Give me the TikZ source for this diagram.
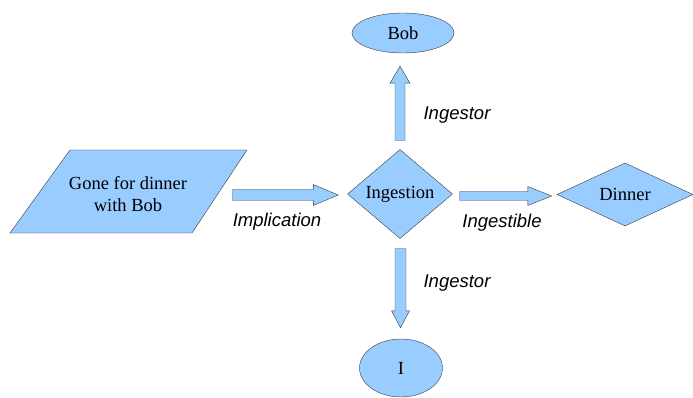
\documentclass[tikz,border=0pt]{standalone}
\usepackage{fontspec}
\setmainfont{Liberation Serif}
\newfontfamily\labelfont{Liberation Sans}
\usetikzlibrary{shapes.geometric,calc}

\definecolor{shapeblue}{HTML}{99CCFF}
\definecolor{edgegray}{HTML}{3C3C3C}

\tikzset{
  shaftw/.store in=\shaftw, shaftw=5pt,
  headw/.store in=\headw, headw=10pt,
  headlen/.store in=\headlen, headlen=20pt,
  shapebase/.style={draw=edgegray, fill=shapeblue, inner sep=0pt,
    font=\fontsize{18.5}{22}\selectfont},
  entity/.style={shapebase, ellipse},
  relation/.style={shapebase, diamond},
  role/.style={font=\labelfont\itshape\fontsize{18.5}{22}\selectfont},
  % block arrow from start to target
  block/.style={draw=edgegray, fill=shapeblue, to path={
    ($(\tikztostart)!\shaftw!90:(\tikztotarget)$)
    -- ($($(\tikztotarget)!\headlen!(\tikztostart)$)!\shaftw!90:(\tikztotarget)$)
    -- ($($(\tikztotarget)!\headlen!(\tikztostart)$)!\headw!90:(\tikztotarget)$)
    -- (\tikztotarget)
    -- ($($(\tikztotarget)!\headlen!(\tikztostart)$)!\headw!-90:(\tikztotarget)$)
    -- ($($(\tikztotarget)!\headlen!(\tikztostart)$)!\shaftw!-90:(\tikztotarget)$)
    -- ($(\tikztostart)!\shaftw!-90:(\tikztotarget)$)
    -- cycle}}
}

\begin{document}
\begin{tikzpicture}[x=1pt, y=-1pt]

    \useasboundingbox (0,0) rectangle (693,398);

    % Parallelogram (drawn directly), corners estimated
    \coordinate (src-tl) at (70,150);
    \coordinate (src-tr) at (247,150);
    \coordinate (src-br) at (192,233);
    \coordinate (src-bl) at (10,233);
    \draw[draw=edgegray, fill=shapeblue] (src-tl) -- (src-tr) -- (src-br) -- (src-bl) -- cycle;
    \coordinate (src-e) at ($(src-tr)!0.5!(src-br)$);
    \node[font=\fontsize{18.5}{22}\selectfont, align=center] (src) at (128,194) {Gone for dinner\\with Bob};

    % Shapes
    \node[relation, aspect=1.18, minimum width=105pt, minimum height=89pt] (hub) at (400,194) {Ingestion};
    \node[relation, aspect=2.16, minimum width=136pt, minimum height=63pt] (dinner) at (625,194.5) {Dinner};
    \node[entity, minimum width=102pt, minimum height=40pt] (bob) at (403,33) {Bob};
    \node[entity, minimum width=83pt, minimum height=58pt] (me) at (401,368) {I};

    % Block arrows
    \draw[block, shaftw=5.5pt, headw=10.5pt, headlen=25pt]
      ($(src-e |- hub.west)+(13,1)$) to ($(hub.west)+(-9,1)$);
    \draw[block, shaftw=4.5pt, headw=9.5pt, headlen=24pt]
      ($(hub.east)+(7,2)$) to ($(hub.east -| dinner.west)+(-5,2)$);
    \draw[block, shaftw=5pt, headw=10pt, headlen=17pt]
      ($(hub.north)+(0,-9)$) to ($(hub.north |- bob.south)+(0,13)$);
    \draw[block, shaftw=5.5pt, headw=9pt, headlen=17pt]
      ($(hub.south)+(0.5,10)$) to ($(hub.south |- me.north)+(0.5,-11)$);

    % Role labels
    \node[role] (implabel) at (277,222) {Implication};
    \node[role] (dishlabel) at (502,223) {Ingestible};
    \node[role] (toplabel) at (457,115) {Ingestor};
    \node[role] (botlabel) at (457,283) {Ingestor};

\end{tikzpicture}
\end{document}
